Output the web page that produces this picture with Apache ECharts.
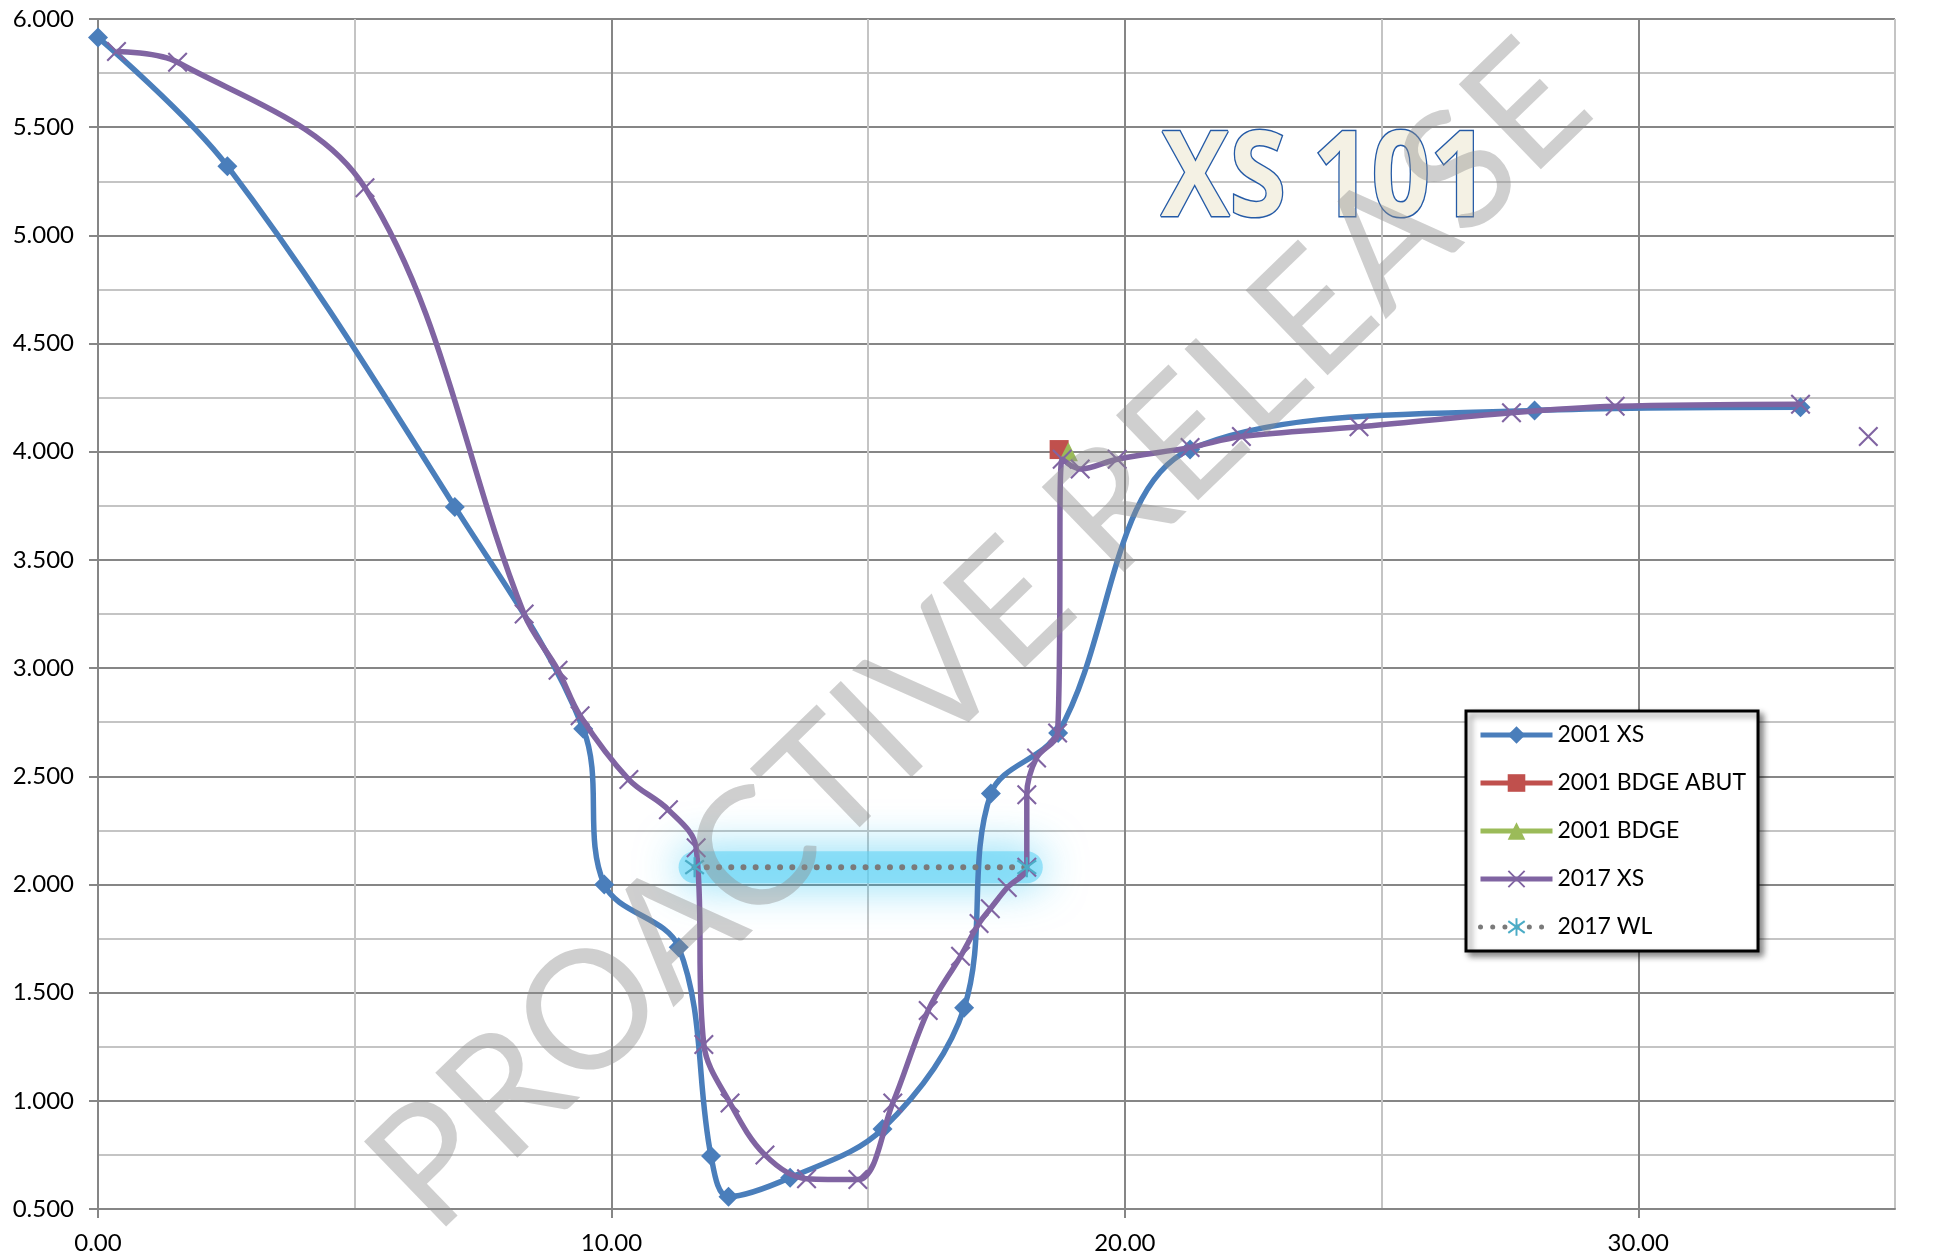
<!DOCTYPE html>
<html>
<head>
<meta charset="utf-8">
<script src="https://cdn.jsdelivr.net/npm/echarts@6/dist/echarts.min.js"></script>
<style>
html,body{margin:0;padding:0;background:#ffffff;}
#chart{width:1945px;height:1260px;}
</style>
</head>
<body>
<div id="chart"></div>
<script>
// ---- data ----
const seriesNames = ['2001 XS', '2001 BDGE ABUT', '2001 BDGE', '2017 XS', '2017 WL'];

const xs2001X = [0.00, 2.52, 6.95, 9.45, 9.86, 11.31, 11.94, 12.28, 13.48, 15.28, 16.87, 17.39, 18.70, 21.27, 27.98, 33.16];
const xs2001Y = [5.915, 5.32, 3.745, 2.72, 2.00, 1.71, 0.745, 0.557, 0.645, 0.87, 1.43, 2.42, 2.70, 4.01, 4.19, 4.205];

const abut2001X = [18.72];
const abut2001Y = [4.01];

const bdge2001X = [18.90];
const bdge2001Y = [4.00];

const xs2017X = [0.36, 1.55, 5.20, 8.30, 8.96, 9.39, 10.34, 11.11, 11.65, 11.80, 12.31, 12.99, 13.80, 14.80, 15.48, 16.17, 16.80, 17.16, 17.38, 17.71, 18.09, 18.09, 18.28, 18.69, 18.78, 19.13, 19.85, 21.27, 22.27, 24.56, 27.53, 29.55, 33.16, null, 34.48];
const xs2017Y = [5.85, 5.80, 5.22, 3.25, 2.99, 2.78, 2.485, 2.345, 2.17, 1.26, 0.99, 0.75, 0.64, 0.636, 0.99, 1.418, 1.668, 1.82, 1.888, 1.986, 2.08, 2.415, 2.585, 2.70, 3.965, 3.92, 3.965, 4.02, 4.07, 4.115, 4.18, 4.21, 4.22, null, 4.07];

const wl2017X = [11.62, 18.09];
const wl2017Y = [2.08, 2.08];

const xTickLabels = [0, 10, 20, 30];
const yTickLabels = [0.5, 1.0, 1.5, 2.0, 2.5, 3.0, 3.5, 4.0, 4.5, 5.0, 5.5, 6.0];

const titleText = 'XS 101';
const watermarkText = 'PROACTIVE RELEASE';

// ---- helpers ----
function pairs(xs, ys) {
  return xs.map((x, i) => (x === null || ys[i] === null) ? ['-', '-'] : [x, ys[i]]);
}

const crossSymbol = 'path://M1.5,0L20,18.5L18.5,20L0,1.5ZM18.5,0L20,1.5L1.5,20L0,18.5Z';
const asteriskSymbol = 'path://M9,0L11,0L11,20L9,20ZM2.2,2.4L19,15.8L17.8,17.6L1,4.2ZM17.8,2.4L19,4.2L2.2,17.6L1,15.8Z';

const DARK = '#868686';
const LIGHT = '#c4c4c4';
const FONT = 'Lato';
const SMOOTH = 0.35;
const LW = 5.5;

const chart = echarts.init(document.getElementById('chart'), null, {renderer: 'canvas'});

const option = {
  animation: false,
  backgroundColor: '#ffffff',
  grid: {left: 98, right: 50, top: 19, bottom: 51},
  xAxis: [
    {
      type: 'value', min: 0, max: 35, interval: 5,
      axisLine: {show: false},
      axisTick: {show: false},
      axisLabel: {show: false},
      splitLine: {show: true, lineStyle: {color: [DARK, LIGHT], width: 2}}
    },
    {
      type: 'value', min: 0, max: 35, position: 'bottom',
      axisLine: {show: true, onZero: false, lineStyle: {color: DARK, width: 2}},
      axisTick: {show: true, customValues: xTickLabels, length: 9, lineStyle: {color: DARK, width: 2}},
      axisLabel: {show: true, customValues: xTickLabels, margin: 22, formatter: v => Number(v).toFixed(2),
        fontFamily: FONT, fontSize: 24, color: '#000'},
      splitLine: {show: false}
    }
  ],
  yAxis: {
    type: 'value', min: 0.5, max: 6, interval: 0.5,
    axisLine: {show: true, onZero: false, lineStyle: {color: DARK, width: 2}},
    axisTick: {show: true, length: 9, lineStyle: {color: DARK, width: 2}},
    axisLabel: {margin: 24, formatter: v => Number(v).toFixed(3), fontFamily: FONT, fontSize: 24, color: '#000'},
    splitLine: {show: true, lineStyle: {color: DARK, width: 2}},
    minorTick: {show: false, splitNumber: 2},
    minorSplitLine: {show: true, lineStyle: {color: LIGHT, width: 2}}
  },
  legend: {
    data: seriesNames,
    orient: 'vertical',
    left: 1466, top: 711,
    padding: [12, 12, 12, 12],
    itemWidth: 72, itemHeight: 22, itemGap: 24,
    borderColor: '#000', borderWidth: 3,
    backgroundColor: '#ffffff',
    shadowBlur: 6, shadowColor: 'rgba(0,0,0,0.45)', shadowOffsetX: 4, shadowOffsetY: 4,
    lineStyle: {width: 5},
    textStyle: {fontFamily: FONT, fontSize: 23, color: '#000', lineHeight: 24}
  },
  series: [
    {
      name: 'wl-glow', type: 'line', xAxisIndex: 0, z: 1,
      data: pairs(wl2017X, wl2017Y),
      showSymbol: false, silent: true,
      lineStyle: {color: 'rgba(100,212,245,0.6)', width: 32, cap: 'round',
        shadowBlur: 44, shadowColor: 'rgba(30,190,240,1)'}
    },
    {
      name: seriesNames[0], type: 'line', xAxisIndex: 0, z: 3,
      data: pairs(xs2001X, xs2001Y), smooth: SMOOTH,
      symbol: 'diamond', symbolSize: 20, showSymbol: true,
      itemStyle: {color: '#4a7ebb'},
      lineStyle: {color: '#4a7ebb', width: LW}
    },
    {
      name: seriesNames[1], type: 'line', xAxisIndex: 0, z: 4,
      data: pairs(abut2001X, abut2001Y),
      symbol: 'rect', symbolSize: 19,
      itemStyle: {color: '#c0504d'},
      lineStyle: {color: '#c0504d', width: LW}
    },
    {
      name: seriesNames[2], type: 'line', xAxisIndex: 0, z: 4,
      data: pairs(bdge2001X, bdge2001Y),
      symbol: 'triangle', symbolSize: 19,
      itemStyle: {color: '#9bbb59'},
      lineStyle: {color: '#9bbb59', width: LW}
    },
    {
      name: seriesNames[3], type: 'line', xAxisIndex: 0, z: 5,
      data: pairs(xs2017X, xs2017Y), smooth: SMOOTH, connectNulls: false,
      symbol: crossSymbol, symbolSize: 20, showSymbol: true,
      itemStyle: {color: '#8064a2'},
      lineStyle: {color: '#8064a2', width: LW}
    },
    {
      name: seriesNames[4], type: 'line', xAxisIndex: 0, z: 6,
      data: pairs(wl2017X, wl2017Y),
      symbol: asteriskSymbol, symbolSize: 20,
      itemStyle: {color: '#4bacc6'},
      lineStyle: {color: '#7a7a7a', width: 6, type: [0.01, 12.2], cap: 'round'}
    }
  ],
  graphic: [
    {
      type: 'text', x: 1325, y: 182, z: 50, silent: true, scaleX: 0.87,
      style: {
        text: titleText, fontFamily: 'Open Sans', fontWeight: 'bold', fontSize: 118,
        fill: '#f4f1e4', stroke: '#245aa6', lineWidth: 3,
        align: 'center', verticalAlign: 'middle',
        shadowBlur: 5, shadowColor: 'rgba(0,0,0,0.35)', shadowOffsetX: 2, shadowOffsetY: 2
      }
    },
    {
      type: 'text', x: 980, y: 637, z: 100, silent: true, rotation: 44 * Math.PI / 180,
      style: {
        text: watermarkText, fontFamily: FONT, fontSize: 165,
        fill: 'rgba(140,140,140,0.42)',
        align: 'center', verticalAlign: 'middle'
      }
    }
  ]
};

chart.setOption(option);
</script>
</body>
</html>
